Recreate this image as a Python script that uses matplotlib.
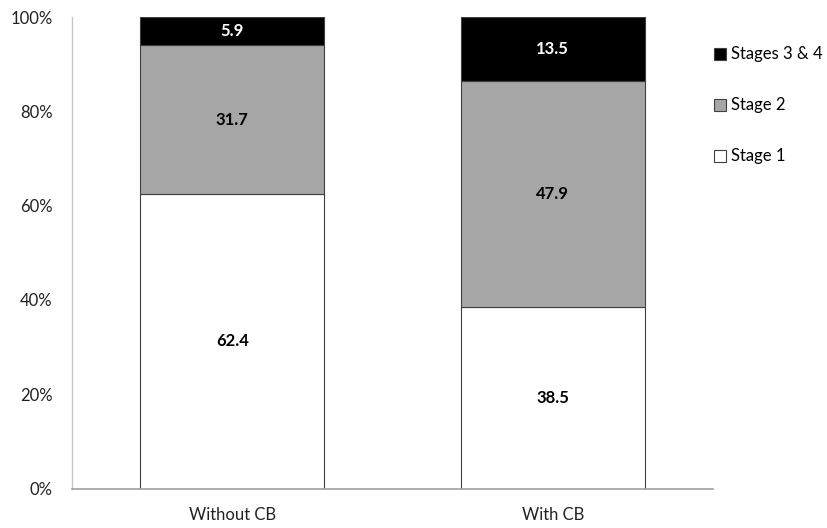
import matplotlib.pyplot as plt
from matplotlib.patches import Patch
from matplotlib.ticker import PercentFormatter

plt.rcParams["font.family"] = ["Lato", "DejaVu Sans"]

groups = ["Without CB", "With CB"]
stage1 = [62.4, 38.5]
stage2 = [31.7, 47.9]
stage34 = [5.9, 13.5]
series_names = ["Stage 1", "Stage 2", "Stages 3 & 4"]
colors = ["#ffffff", "#a6a6a6", "#000000"]
text_colors = ["black", "black", "white"]

fig = plt.figure(figsize=(8.28, 5.28), dpi=100)
ax = fig.add_axes([0.087, 0.0748, 0.774, 0.893])

x = range(len(groups))
bottom = [0.0] * len(groups)
for vals, name, col, tcol in zip([stage1, stage2, stage34], series_names, colors, text_colors):
    bars = ax.bar(x, vals, 0.574, bottom=bottom, color=col, edgecolor="#3f3f3f",
                  linewidth=0.8, label=name)
    for b, v, b0 in zip(bars, vals, bottom):
        ax.text(b.get_x() + b.get_width() / 2, b0 + v / 2, f"{v:.1f}",
                ha="center", va="center", fontsize=12, fontweight="bold", color=tcol)
    bottom = [b0 + v for b0, v in zip(bottom, vals)]

ax.set_xlim(-0.5, 1.5)
ax.set_ylim(0, 100)
ax.set_yticks(range(0, 101, 20))
ax.yaxis.set_major_formatter(PercentFormatter(decimals=0))
ax.set_xticks(list(x))
ax.set_xticklabels(groups)
ax.tick_params(axis="both", length=0, labelsize=12, colors="#222222")
ax.tick_params(axis="y", pad=14)
ax.tick_params(axis="x", pad=13)
for side in ["top", "right"]:
    ax.spines[side].set_visible(False)
ax.spines["left"].set_color("#c8c8c8")
ax.spines["bottom"].set_color("#a0a0a0")
ax.spines["left"].set_linewidth(1.0)
ax.spines["bottom"].set_linewidth(1.2)

# legend placed by hand to the right of the plot, top entry first
handles = [Patch(facecolor=c, edgecolor="#3f3f3f", linewidth=0.8) for c in colors[::-1]]
fig.legend(handles, series_names[::-1], loc="upper left", bbox_to_anchor=(0.862, 0.912),
           frameon=False, fontsize=12, handlelength=0.75, handleheight=0.75,
           handletextpad=0.3, labelspacing=2.1, borderpad=0, borderaxespad=0)

fig.savefig("out.png", dpi=100)
